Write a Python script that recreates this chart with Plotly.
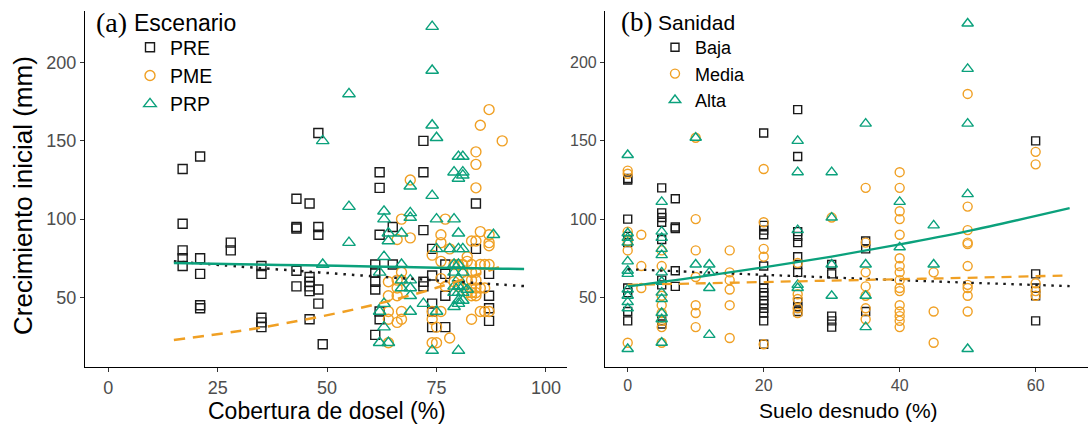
import plotly.graph_objects as go

# ---------------- Data: panel (a) Cobertura de dosel ----------------
pre_pts = [(17,132),(21,140),(17,97),(17,80),(17,75),(17,70),(21,75),(21,65),(21,45),(21,43),
           (28,85),(28,80),(35,70),(35,65),(35,37),(35,34),(35,31),
           (43,113),(43,95),(43,94),(43,67),(43,57),
           (46,110),(46,63),(46,60),(46,57),(46,54),(46,36),
           (48,155),(48,95),(48,90),(48,55),(48,46),(49,20),
           (62,130),(62,120),(65,95),(62,90),(61,71),(61,66),(61,60),(61,55),(65,71),(62,41),(62,36),(61,26),
           (72,150),(72,130),(72,93),(72,60),(72,57),
           (74,81),(74,64),(74,46),(74,41),(74,31),
           (77,71),(77,65),(77,51),(77,31),
           (84,110),(84,81),
           (87,65),(87,51),(87,43),(87,35)]
pme_pts = [(87,170),(85,160),(90,150),(84,143),(84,135),(84,120),(69,125),
           (67,100),(77,100),(85,92),(87,90),(76,90),(76,85),(83,86),(84,86),(87,85),(87,83),(66,87),(69,88),
           (78,81),(74,77),(76,73),(82,76),(82,73),
           (79,71),(80,71),(81,71),(83,71),(85,71),(86,71),(87,71),
           (81,66),(83,66),(84,66),(82,61),(83,61),(84,61),
           (83,56),(84,56),(85,56),(86,56),(82,53),(83,53),(84,53),(83,51),(84,51),
           (66,61),(67,61),(64,60),(67,66),(66,56),(64,51),(66,51),(64,41),(67,41),(64,36),(67,36),(66,34),(64,21),
           (76,62),(77,57),(79,60),(80,57),
           (74,41),(74,36),(75,31),(74,21),(75,21),(78,24),(76,41),(83,36),(85,41),(86,41),(87,41)]
prp_pts = [(74,223),(74,195),(55,180),(74,160),(75,152),(49,150),(80,140),(81,140),(79,130),(81,130),(81,128),
           (80,126),(69,121),(74,115),(55,108),(63,105),(63,100),(69,104),(69,101),(75,100),(79,100),
           (64,91),(64,86),(67,91),(55,85),(88,90),(80,91),(75,81),(78,81),(80,81),(81,81),(63,76),(49,71),
           (67,71),(62,66),(79,71),(80,71),(67,61),(69,61),(67,56),(69,56),(79,66),(80,62),(81,66),
           (79,57),(80,57),(81,57),(82,55),(80,53),(79,53),(81,53),(80,48),(81,48),(79,44),(80,46),
           (69,51),(72,46),(63,46),(62,41),(63,31),(62,21),(64,21),(74,16),(80,16),(69,41),(75,41)]

# fitted curves (panel a)
fit_a_x = [15, 30, 45, 60, 75, 90, 95]
fit_a_pre = [73, 69.7, 66.6, 63.6, 60.8, 58.1, 57.2]
fit_a_pme_x = [15, 30, 45, 60, 75, 90]
fit_a_pme = [22.8, 28.5, 35.8, 44.8, 56.1, 70.0]
fit_a_prp = [72, 71.2, 70.5, 69.8, 69.0, 68.3, 68.1]

# ---------------- Data: panel (b) Suelo desnudo ----------------
baja_pts = [(0,126),(0,125),(0,100),(0,89),(0,85),(0,56),(0,53),(0,41),(0,35),
            (5,120),(5,104),(5,101),(5,98),(5,87),(5,61),(5,58),(5,35),(5,33),
            (7,113),(7,95),(7,94),(7,67),(7,57),
            (20,155),(20,96),(20,93),(20,90),(20,70),(20,61),(20,56),(20,53),(20,51),(20,48),(20,46),
            (20,43),(20,40),(20,35),(20,20),
            (25,170),(25,140),(25,92),(25,89),(25,85),(25,76),(25,71),(25,66),(25,47),(25,44),(25,41),
            (30,71),(30,65),(30,38),(30,35),(30,31),
            (35,86),(35,81),(35,41),
            (60,150),(60,65),(60,56),(60,51),(60,35)]
media_pts = [(10,152),(0,131),(0,129),(20,132),(10,100),(0,92),(0,86),(0,80),(2,90),(2,70),(2,56),
             (5,80),(5,70),(5,51),(5,45),(5,40),(5,35),(5,31),(5,21),(0,21),
             (10,80),(10,63),(10,45),(10,40),(10,31),
             (15,80),(15,66),(15,61),(15,55),(15,45),(15,24),
             (20,98),(20,81),(20,76),(20,20),
             (25,72),(25,52),(25,49),(25,43),(25,40),
             (30,101),
             (35,120),(35,85),(35,66),(35,57),(35,51),(35,43),(35,36),
             (40,130),(40,120),(40,105),(40,100),(40,90),(40,75),(40,70),(40,66),(40,61),(40,56),(40,54),
             (40,45),(40,41),(40,38),(40,35),(40,31),
             (45,66),(45,41),(45,21),
             (50,180),(50,108),(50,93),(50,85),(50,84),(50,70),(50,58),(50,56),(50,51),(50,41),
             (60,143),(60,135),(60,59),(60,54),(60,51)]
alta_pts = [(0,141),(10,152),(0,91),(0,88),(0,85),(0,73),(0,67),(0,65),(0,55),(0,51),(0,47),(0,43),(0,17),
            (5,111),(5,92),(5,88),(5,81),(5,77),(5,66),(5,60),(5,53),(5,49),(5,40),(5,36),(5,21),
            (10,71),(12,71),(12,66),(12,56),(12,26),
            (25,150),(25,130),(25,93),(25,58),(25,56),
            (30,130),(30,101),(30,71),(30,51),
            (35,161),(35,71),(35,51),(35,31),
            (40,111),(40,82),
            (45,96),(45,71),
            (50,225),(50,196),(50,161),(50,116),(50,17)]

fit_b_x = [0, 10, 20, 30, 40, 50, 65]
fit_b_baja = [68, 66.2, 64.4, 62.7, 61.0, 59.4, 57.2]
fit_b_media = [58, 58.9, 59.8, 60.7, 61.6, 62.5, 64.0]
fit_b_alta = [57, 62.8, 69.2, 76.1, 83.8, 92.3, 107]

tick_a = [0, 25, 50, 75, 100]
tick_b = [0, 20, 40, 60]
tick_y = [50, 100, 150, 200]

BLACK = "#1a1a1a"
ORANGE = "#F0A024"
GREEN = "#0BA17C"
FONT = "Liberation Sans"

def xs(p): return [a for a, b in p]
def ys(p): return [b for a, b in p]

fig = go.Figure()

def pts(p, name, sym, color, size, xa, ya, legend):
    fig.add_trace(go.Scatter(x=xs(p), y=ys(p), mode="markers", name=name,
                             xaxis=xa, yaxis=ya, legend=legend,
                             marker=dict(symbol=sym, size=size, color=color,
                                         line=dict(width=1.4, color=color))))

pts(pre_pts, "PRE", "square-open", BLACK, 9, "x", "y", "legend")
pts(pme_pts, "PME", "circle-open", ORANGE, 10, "x", "y", "legend")
pts(prp_pts, "PRP", "triangle-up-open", GREEN, 11, "x", "y", "legend")
pts(baja_pts, "Baja", "square-open", BLACK, 8, "x2", "y2", "legend2")
pts(media_pts, "Media", "circle-open", ORANGE, 9, "x2", "y2", "legend2")
pts(alta_pts, "Alta", "triangle-up-open", GREEN, 10, "x2", "y2", "legend2")

def line(x, y, color, dash, xa, ya, w):
    fig.add_trace(go.Scatter(x=x, y=y, mode="lines", showlegend=False, xaxis=xa, yaxis=ya,
                             line=dict(color=color, width=w, dash=dash, shape="spline"),
                             hoverinfo="skip"))

line(fit_a_x, fit_a_pre, BLACK, "2.5px,6px", "x", "y", 2.5)
line(fit_a_pme_x, fit_a_pme, ORANGE, "11px,8px", "x", "y", 2.5)
line(fit_a_x, fit_a_prp, GREEN, "solid", "x", "y", 2.5)
line(fit_b_x, fit_b_baja, BLACK, "2.5px,5.5px", "x2", "y2", 2.3)
line(fit_b_x, fit_b_media, ORANGE, "10px,7px", "x2", "y2", 2.3)
line(fit_b_x, fit_b_alta, GREEN, "solid", "x2", "y2", 2.3)

L, R, T, B = 85, 0, 11, 58
W, H = 1088, 425
pw = W - L - R
ph = H - T - B
def px(v): return (v - L) / pw
def py(v): return (H - B - v) / ph

def axis_common(fs):
    return dict(showline=True, linecolor="black", linewidth=1.2, ticks="outside",
                ticklen=4, tickwidth=1.1, tickcolor="#333333", showgrid=False, zeroline=False,
                tickfont=dict(family=FONT, size=fs, color="#4D4D4D"), mirror=False)

fig.update_layout(
    width=W, height=H, margin=dict(l=L, r=R, t=T, b=B),
    paper_bgcolor="white", plot_bgcolor="white",
    xaxis=dict(domain=[0, px(567)], range=[-5.3, 104.8], tickvals=tick_a, anchor="y", **axis_common(18)),
    yaxis=dict(domain=[0, 1], range=[5.5, 233], tickvals=tick_y, anchor="x", **axis_common(18)),
    xaxis2=dict(domain=[px(605), 1], range=[-3.34, 67.7], tickvals=tick_b, anchor="y2", **axis_common(16)),
    yaxis2=dict(domain=[0, 1], range=[5.5, 233], tickvals=tick_y, anchor="x2", **axis_common(16)),
    legend=dict(x=px(130), y=py(28), xanchor="left", yanchor="top", bgcolor="rgba(0,0,0,0)",
                font=dict(family=FONT, size=19.5, color="black"), tracegroupgap=0),
    legend2=dict(x=px(655), y=py(29), xanchor="left", yanchor="top", bgcolor="rgba(0,0,0,0)",
                 font=dict(family=FONT, size=18, color="black"), tracegroupgap=0),
    showlegend=True,
)

ann = [
    dict(text="(a)", x=px(94), y=py(22), xanchor="left", yanchor="middle",
         font=dict(family="Liberation Serif", size=28, color="black")),
    dict(text="Escenario", x=px(132), y=py(23), xanchor="left", yanchor="middle",
         font=dict(family=FONT, size=23, color="black")),
    dict(text="(b)", x=px(619), y=py(22), xanchor="left", yanchor="middle",
         font=dict(family="Liberation Serif", size=27, color="black")),
    dict(text="Sanidad", x=px(656), y=py(23), xanchor="left", yanchor="middle",
         font=dict(family=FONT, size=21, color="black")),
    dict(text="Crecimiento inicial (mm)", x=px(23), y=py(196), textangle=-90, xanchor="center",
         yanchor="middle", font=dict(family=FONT, size=26, color="black")),
    dict(text="Cobertura de dosel (%)", x=px(326.5), y=py(411), xanchor="center", yanchor="middle",
         font=dict(family=FONT, size=23, color="black")),
    dict(text="Suelo desnudo (%)", x=px(848), y=py(410), xanchor="center", yanchor="middle",
         font=dict(family=FONT, size=21, color="black")),
]
for a in ann:
    a.update(xref="paper", yref="paper", showarrow=False)
fig.update_layout(annotations=ann)

fig.write_html("out.html", config={"displayModeBar": False},
               post_script="document.body.style.margin='0';document.body.style.overflow='hidden';")
